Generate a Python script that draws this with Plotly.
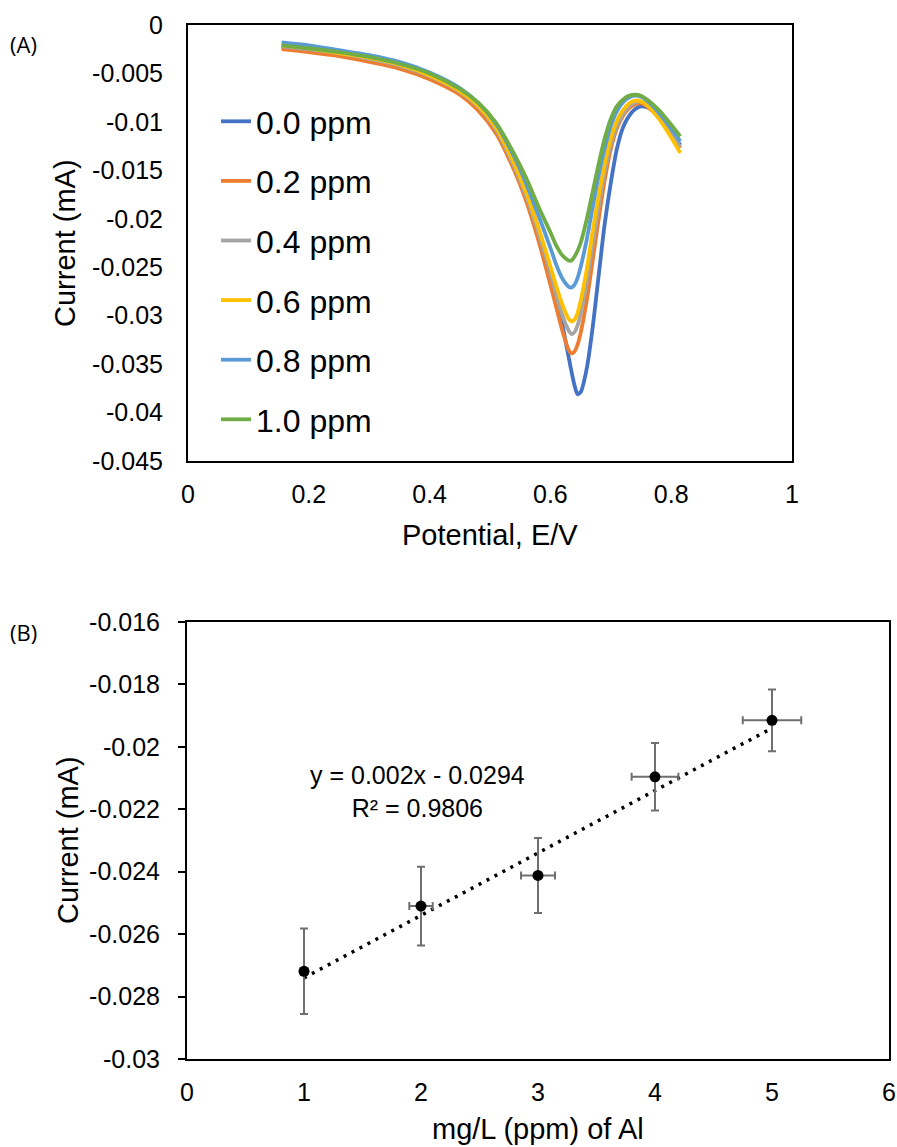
import plotly.graph_objects as go

# ---------------- Panel A data ----------------
potential = [0.155, 0.20, 0.25, 0.30, 0.35, 0.40, 0.45, 0.48, 0.51, 0.54, 0.56, 0.58, 0.60,
             0.61, 0.62, 0.63, 0.635, 0.64, 0.645, 0.65, 0.66, 0.67, 0.68, 0.69, 0.70,
             0.71, 0.72, 0.73, 0.74, 0.75, 0.76, 0.78, 0.80, 0.815]

cur_0_0 = [-0.0023, -0.0026, -0.0030, -0.0036, -0.0043, -0.0054, -0.0069, -0.0084, -0.0107, -0.0142,
           -0.0172, -0.0210, -0.0255, -0.0282, -0.0310, -0.0342, -0.0358, -0.0372, -0.0381, -0.0379,
           -0.0355, -0.0312, -0.0258, -0.0205, -0.0163, -0.0128, -0.0106, -0.0094, -0.0087, -0.0084,
           -0.0085, -0.0094, -0.0110, -0.0124]
cur_0_2 = [-0.0025, -0.0028, -0.0032, -0.0038, -0.0045, -0.0056, -0.0072, -0.0088, -0.0112, -0.0150,
           -0.0182, -0.0222, -0.0268, -0.0292, -0.0316, -0.0335, -0.0339, -0.0337, -0.0330, -0.0318,
           -0.0285, -0.0243, -0.0200, -0.0160, -0.0128, -0.0107, -0.0094, -0.0086, -0.0082, -0.0081,
           -0.0084, -0.0096, -0.0113, -0.0127]
cur_0_4 = [-0.0022, -0.0025, -0.0029, -0.0035, -0.0042, -0.0053, -0.0069, -0.0084, -0.0108, -0.0146,
           -0.0177, -0.0214, -0.0256, -0.0279, -0.0300, -0.0315, -0.0319, -0.0317, -0.0310, -0.0298,
           -0.0266, -0.0226, -0.0187, -0.0151, -0.0123, -0.0104, -0.0092, -0.0084, -0.0080, -0.0079,
           -0.0082, -0.0094, -0.0111, -0.0126]
cur_0_6 = [-0.0021, -0.0024, -0.0029, -0.0034, -0.0041, -0.0052, -0.0068, -0.0083, -0.0106, -0.0143,
           -0.0173, -0.0209, -0.0249, -0.0270, -0.0289, -0.0303, -0.0306, -0.0304, -0.0297, -0.0285,
           -0.0253, -0.0213, -0.0176, -0.0143, -0.0117, -0.0099, -0.0088, -0.0081, -0.0078, -0.0079,
           -0.0083, -0.0097, -0.0116, -0.0132]
cur_0_8 = [-0.0018, -0.0021, -0.0026, -0.0031, -0.0038, -0.0049, -0.0065, -0.0080, -0.0102, -0.0136,
           -0.0164, -0.0196, -0.0230, -0.0248, -0.0262, -0.0270, -0.0271, -0.0268, -0.0261, -0.0250,
           -0.0222, -0.0188, -0.0155, -0.0127, -0.0104, -0.0089, -0.0080, -0.0075, -0.0073, -0.0074,
           -0.0078, -0.0091, -0.0107, -0.0120]
cur_1_0 = [-0.0021, -0.0024, -0.0028, -0.0033, -0.0040, -0.0050, -0.0066, -0.0080, -0.0101, -0.0133,
           -0.0158, -0.0187, -0.0214, -0.0228, -0.0238, -0.0243, -0.0243, -0.0239, -0.0233, -0.0225,
           -0.0201, -0.0172, -0.0143, -0.0117, -0.0097, -0.0084, -0.0077, -0.0073, -0.0072, -0.0073,
           -0.0077, -0.0088, -0.0103, -0.0115]

series_names = ["0.0 ppm", "0.2 ppm", "0.4 ppm", "0.6 ppm", "0.8 ppm", "1.0 ppm"]
series_values = [cur_0_0, cur_0_2, cur_0_4, cur_0_6, cur_0_8, cur_1_0]
series_colors = ["#4472C4", "#ED7D31", "#A5A5A5", "#FFC000", "#5B9BD5", "#70AD47"]

a_xtick_vals = [0, 0.2, 0.4, 0.6, 0.8, 1]
a_xtick_text = ["0", "0.2", "0.4", "0.6", "0.8", "1"]
a_ytick_vals = [0, -0.005, -0.01, -0.015, -0.02, -0.025, -0.03, -0.035, -0.04, -0.045]
a_ytick_text = ["0", "-0.005", "-0.01", "-0.015", "-0.02", "-0.025", "-0.03", "-0.035", "-0.04", "-0.045"]

# ---------------- Panel B data ----------------
conc = [1, 2, 3, 4, 5]
current_b = [-0.02719, -0.02510, -0.02412, -0.02096, -0.01915]
err_y = [0.00137, 0.00126, 0.00120, 0.00108, 0.00099]
err_x = [0.03, 0.10, 0.145, 0.20, 0.25]
slope = 0.002
intercept = -0.0294
eq_text = "y = 0.002x - 0.0294<br>R² = 0.9806"

b_xtick_vals = [0, 1, 2, 3, 4, 5, 6]
b_xtick_text = ["0", "1", "2", "3", "4", "5", "6"]
b_ytick_vals = [-0.016, -0.018, -0.02, -0.022, -0.024, -0.026, -0.028, -0.03]
b_ytick_text = ["-0.016", "-0.018", "-0.02", "-0.022", "-0.024", "-0.026", "-0.028", "-0.03"]

W, H = 897, 1147
FONT = "Liberation Sans, Arial, sans-serif"


def px_x(p):
    return p / W


def px_y(p):
    return 1 - p / H


fig = go.Figure()

for name, vals, col in zip(series_names, series_values, series_colors):
    fig.add_trace(go.Scatter(
        x=potential, y=vals, mode="lines", name=name,
        line=dict(color=col, width=3.8, shape="spline", smoothing=0.8),
        xaxis="x", yaxis="y", legendgroup=name, showlegend=True,
    ))

# trendline (from fitted equation)
trend_x = [conc[0], conc[-1]]
trend_y = [slope * v + intercept for v in trend_x]
fig.add_trace(go.Scatter(
    x=trend_x, y=trend_y, mode="lines", xaxis="x2", yaxis="y2",
    line=dict(color="black", width=3.5, dash="3px,6px"), showlegend=False,
))

fig.add_trace(go.Scatter(
    x=conc, y=current_b, mode="markers", xaxis="x2", yaxis="y2",
    marker=dict(color="black", size=11),
    error_y=dict(type="data", array=err_y, visible=True, color="#6f6f6f", thickness=2, width=4),
    error_x=dict(type="data", array=err_x, visible=True, color="#6f6f6f", thickness=2, width=4),
    showlegend=False,
))

tickfont = dict(family=FONT, size=25, color="black")

fig.update_layout(
    width=W, height=H,
    margin=dict(l=0, r=0, t=0, b=0, autoexpand=False),
    paper_bgcolor="white", plot_bgcolor="white",
    showlegend=True,
    legend=dict(
        x=px_x(216), y=px_y(94), xanchor="left", yanchor="top",
        font=dict(family=FONT, size=32, color="black"),
        bgcolor="rgba(0,0,0,0)", tracegroupgap=15, itemwidth=30,
    ),
    xaxis=dict(
        domain=[px_x(188), px_x(792)], range=[0, 1],
        tickmode="array", tickvals=a_xtick_vals, ticktext=a_xtick_text,
        showline=True, linecolor="black", linewidth=2, mirror=True,
        ticks="", showgrid=False, zeroline=False, tickfont=tickfont,
        ticklabelstandoff=10, anchor="y",
    ),
    yaxis=dict(
        domain=[px_y(461), px_y(25)], range=[-0.045, 0],
        tickmode="array", tickvals=a_ytick_vals, ticktext=a_ytick_text,
        showline=True, linecolor="black", linewidth=2, mirror=True,
        ticks="", showgrid=False, zeroline=False, tickfont=tickfont,
        ticklabelstandoff=18, anchor="x",
    ),
    xaxis2=dict(
        domain=[px_x(187), px_x(889)], range=[0, 6],
        tickmode="array", tickvals=b_xtick_vals, ticktext=b_xtick_text,
        showline=True, linecolor="black", linewidth=2, mirror=True,
        ticks="", showgrid=False, zeroline=False, tickfont=tickfont,
        ticklabelstandoff=10, anchor="y2",
    ),
    xaxis3=dict(
        domain=[px_x(187), px_x(889)], range=[0, 6],
        tickmode="array", tickvals=b_xtick_vals,
        overlaying="x2", side="top", anchor="y2",
        showline=False, ticks="inside", ticklen=7, tickwidth=2, tickcolor="black",
        showticklabels=False, showgrid=False, zeroline=False,
    ),
    yaxis2=dict(
        domain=[px_y(1059), px_y(622)], range=[-0.03, -0.016],
        tickmode="array", tickvals=b_ytick_vals, ticktext=b_ytick_text,
        showline=True, linecolor="black", linewidth=2, mirror=True,
        ticks="outside", ticklen=7, tickwidth=2, tickcolor="black",
        showgrid=False, zeroline=False, tickfont=tickfont,
        ticklabelstandoff=13, anchor="x2",
    ),
)

lab_font = dict(family="Open Sans, Noto Sans", size=22, color="black")
title_font = dict(family=FONT, size=29, color="black")
annotations = [
    dict(text="(A)", x=px_x(8), y=px_y(44), xref="paper", yref="paper", xanchor="left",
         yanchor="middle", showarrow=False, font=lab_font),
    dict(text="(B)", x=px_x(8), y=px_y(632), xref="paper", yref="paper", xanchor="left",
         yanchor="middle", showarrow=False, font=lab_font),
    dict(text="Current (mA)", x=px_x(65), y=px_y(243), xref="paper", yref="paper",
         xanchor="center", yanchor="middle",
         textangle=-90, showarrow=False, font=title_font),
    dict(text="Current (mA)", x=px_x(68), y=px_y(840), xref="paper", yref="paper",
         xanchor="center", yanchor="middle",
         textangle=-90, showarrow=False, font=title_font),
    dict(text="Potential, E/V", x=px_x(490), y=px_y(535), xref="paper", yref="paper",
         xanchor="center", yanchor="middle", showarrow=False, font=title_font),
    dict(text="mg/L (ppm) of Al", x=px_x(538), y=px_y(1129), xref="paper", yref="paper",
         xanchor="center", yanchor="middle", showarrow=False, font=title_font),
    dict(text=eq_text, x=1.97, y=-0.02142, xref="x2", yref="y2", showarrow=False,
         xanchor="center", yanchor="middle",
         align="center", font=dict(family=FONT, size=25, color="black")),
]
fig.update_layout(annotations=annotations)

fig.write_html(
    "out.html",
    config={"displayModeBar": False},
    post_script="document.body.style.margin='0';document.body.style.overflow='hidden';",
)
